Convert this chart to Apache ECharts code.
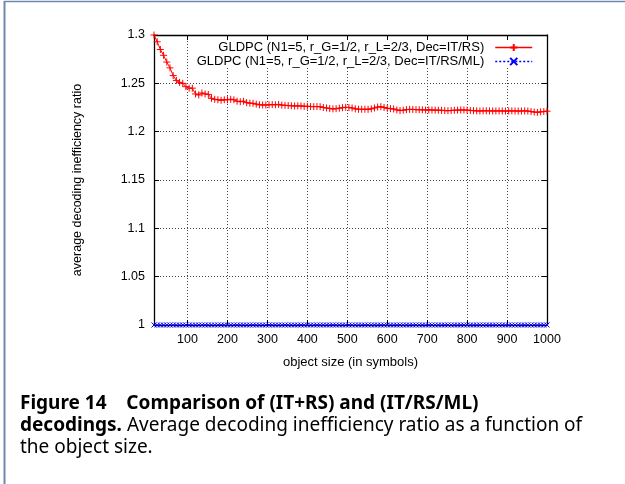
<!DOCTYPE html>
<html>
<head>
<meta charset="utf-8">
<script src="https://cdn.jsdelivr.net/npm/echarts@6/dist/echarts.min.js"></script>
<style>
  html, body { margin: 0; padding: 0; background: #fff; }
  #c { width: 625px; height: 484px; }
</style>
</head>
<body>
<div id="c"></div>
<script>
// object size (in symbols)
const sizes = [
  16, 24, 32, 40, 48, 56, 64, 72, 80, 88,
  96, 104, 112, 120, 128, 136, 144, 152, 160, 168,
  176, 184, 192, 200, 208, 216, 224, 232, 240, 248,
  256, 264, 272, 280, 288, 296, 304, 312, 320, 328,
  336, 344, 352, 360, 368, 376, 384, 392, 400, 408,
  416, 424, 432, 440, 448, 456, 464, 472, 480, 488,
  496, 504, 512, 520, 528, 536, 544, 552, 560, 568,
  576, 584, 592, 600, 608, 616, 624, 632, 640, 648,
  656, 664, 672, 680, 688, 696, 704, 712, 720, 728,
  736, 744, 752, 760, 768, 776, 784, 792, 800, 808,
  816, 824, 832, 840, 848, 856, 864, 872, 880, 888,
  896, 904, 912, 920, 928, 936, 944, 952, 960, 968,
  976, 984, 992, 1000
];
// Dec=IT/RS
const itRs = [
  1.300, 1.293, 1.285, 1.279, 1.272, 1.266, 1.258, 1.253, 1.251, 1.250,
  1.2465, 1.245, 1.245, 1.239, 1.238, 1.240, 1.239, 1.2385, 1.2345, 1.2335,
  1.233, 1.2325, 1.233, 1.233, 1.2335, 1.233, 1.2315, 1.231, 1.2315, 1.230,
  1.2295, 1.2293, 1.2285, 1.2278, 1.2276, 1.2276, 1.2278, 1.228, 1.2278, 1.2282,
  1.2275, 1.2272, 1.227, 1.2268, 1.2266, 1.2267, 1.2266, 1.2262, 1.2263, 1.226,
  1.2259, 1.226, 1.2258, 1.225, 1.2245, 1.224, 1.2235, 1.2238, 1.2243, 1.2248,
  1.2252, 1.225, 1.2245, 1.2236, 1.2232, 1.2231, 1.2232, 1.2231, 1.2236, 1.2245,
  1.2255, 1.2258, 1.225, 1.2242, 1.2238, 1.2235, 1.2225, 1.2218, 1.2222, 1.2228,
  1.2231, 1.223, 1.2228, 1.2227, 1.2226, 1.2224, 1.2225, 1.2224, 1.2223, 1.2222,
  1.2221, 1.2218, 1.2217, 1.2219, 1.2222, 1.2223, 1.2224, 1.2224, 1.2223, 1.222,
  1.2217, 1.2215, 1.2214, 1.2215, 1.2216, 1.2215, 1.2214, 1.2214, 1.2215, 1.2214,
  1.2213, 1.2214, 1.2215, 1.2214, 1.2213, 1.2214, 1.2215, 1.2213, 1.2208, 1.2203,
  1.22, 1.2205, 1.2208, 1.2212
];
// Dec=IT/RS/ML
const itRsMl = [
  1, 1, 1, 1, 1, 1, 1, 1, 1, 1,
  1, 1, 1, 1, 1, 1, 1, 1, 1, 1,
  1, 1, 1, 1, 1, 1, 1, 1, 1, 1,
  1, 1, 1, 1, 1, 1, 1, 1, 1, 1,
  1, 1, 1, 1, 1, 1, 1, 1, 1, 1,
  1, 1, 1, 1, 1, 1, 1, 1, 1, 1,
  1, 1, 1, 1, 1, 1, 1, 1, 1, 1,
  1, 1, 1, 1, 1, 1, 1, 1, 1, 1,
  1, 1, 1, 1, 1, 1, 1, 1, 1, 1,
  1, 1, 1, 1, 1, 1, 1, 1, 1, 1,
  1, 1, 1, 1, 1, 1, 1, 1, 1, 1,
  1, 1, 1, 1, 1, 1, 1, 1, 1, 1,
  1, 1, 1, 1
];
const xTicks = [100, 200, 300, 400, 500, 600, 700, 800, 900, 1000];
const seriesNames = [
  'GLDPC (N1=5, r_G=1/2, r_L=2/3, Dec=IT/RS)',
  'GLDPC (N1=5, r_G=1/2, r_L=2/3, Dec=IT/RS/ML)'
];

const font = 'Liberation Sans, Arial, Helvetica, sans-serif';
const capFont = 'Noto Sans, DejaVu Sans, sans-serif';
const capBold = 'Noto Sans, DejaVu Sans, sans-serif';
const gridLine = { show: true, lineStyle: { color: '#444', width: 1, type: [1, 2] } };
const axisLine = { show: true, onZero: false, lineStyle: { color: '#000', width: 1.3 } };

const chart = echarts.init(document.getElementById('c'), null, { renderer: 'canvas' });
chart.setOption({
  animation: false,
  backgroundColor: '#fff',
  grid: { left: 154, right: 78, top: 35, bottom: 159, containLabel: false },
  xAxis: [
    {
      type: 'value', min: 16, max: 1000, position: 'bottom',
      axisLine: axisLine,
      axisTick: { show: true, inside: true, length: 5, customValues: xTicks, lineStyle: { color: '#000' } },
      axisLabel: { customValues: xTicks, formatter: v => String(v), color: '#000', fontFamily: font, fontSize: 12.5, margin: 8 },
      splitLine: gridLine,
      name: 'object size (in symbols)', nameLocation: 'middle', nameGap: 31,
      nameTextStyle: { color: '#000', fontFamily: font, fontSize: 13 }
    },
    {
      type: 'value', min: 16, max: 1000, position: 'top',
      axisLine: axisLine,
      axisTick: { show: true, inside: true, length: 5, customValues: xTicks, lineStyle: { color: '#000' } },
      axisLabel: { show: false },
      splitLine: { show: false }
    }
  ],
  yAxis: [
    {
      type: 'value', min: 1, max: 1.3, interval: 0.05, position: 'left',
      axisLine: axisLine,
      axisTick: { show: true, inside: true, length: 5, lineStyle: { color: '#000' } },
      axisLabel: { color: '#000', fontFamily: font, fontSize: 12.5, margin: 9, showMinLabel: true, showMaxLabel: true },
      splitLine: gridLine,
      name: 'average decoding inefficiency ratio', nameLocation: 'middle', nameGap: 70, nameRotate: 90,
      nameTextStyle: { color: '#000', fontFamily: font, fontSize: 12.5 }
    },
    {
      type: 'value', min: 1, max: 1.3, interval: 0.05, position: 'right',
      axisLine: axisLine,
      axisTick: { show: true, inside: true, length: 5, lineStyle: { color: '#000' } },
      axisLabel: { show: false },
      splitLine: { show: false }
    }
  ],
  legend: [
    {
      data: [seriesNames[0]], align: 'right', right: 92, top: 41, padding: 0,
      itemWidth: 37, itemHeight: 9,
      lineStyle: { width: 1.5 },
      textStyle: { color: '#000', fontFamily: font, fontSize: 13, padding: [0, 6, 0, 0] },
      backgroundColor: '#fff'
    },
    {
      data: [seriesNames[1]], align: 'right', right: 92, top: 55, padding: 0,
      itemWidth: 37, itemHeight: 9,
      lineStyle: { width: 1.5 },
      textStyle: { color: '#000', fontFamily: font, fontSize: 13, padding: [0, 6, 0, 0] },
      backgroundColor: '#fff'
    }
  ],
  graphic: [
    { type: 'line', shape: { x1: 4, y1: 1.5, x2: 625, y2: 1.5 }, style: { stroke: '#6d89ad', lineWidth: 1.5 }, silent: true },
    { type: 'line', shape: { x1: 4.5, y1: 1, x2: 4.5, y2: 484 }, style: { stroke: '#6d89ad', lineWidth: 2 }, silent: true },
    {
      type: 'text', left: 20, top: 394, silent: true,
      style: {
        text: '{b|Figure 14}    {b|Comparison of (IT+RS) and (IT/RS/ML)}\n{b|decodings.}{n| Average decoding inefficiency ratio as a function of}\n{n|the object size.}',
        fill: '#000',
        rich: {
          b: { fontFamily: capBold, fontSize: 19, fontWeight: 'bold', lineHeight: 22, fill: '#000' },
          n: { fontFamily: capFont, fontSize: 19, lineHeight: 22, fill: '#000' }
        },
        font: '19px ' + capFont
      }
    }
  ],
  series: [
    {
      name: seriesNames[0], type: 'line', xAxisIndex: 0, yAxisIndex: 0,
      data: sizes.map((s, i) => [s, itRs[i]]),
      symbol: 'path://M0,5L10,5M5,0L5,10', symbolSize: 7, showAllSymbol: true,
      lineStyle: { color: '#ff0000', width: 1 },
      itemStyle: { color: 'none', borderColor: '#ff0000', borderWidth: 1 },
      clip: true
    },
    {
      name: seriesNames[1], type: 'line', xAxisIndex: 0, yAxisIndex: 0,
      data: sizes.map((s, i) => [s, itRsMl[i]]),
      symbol: 'path://M0,0L10,10M10,0L0,10', symbolSize: 5, showAllSymbol: true,
      lineStyle: { color: '#0000ff', width: 1, type: [2, 2] },
      itemStyle: { color: 'none', borderColor: '#0000ff', borderWidth: 1 },
      clip: false
    }
  ]
});
</script>
</body>
</html>
